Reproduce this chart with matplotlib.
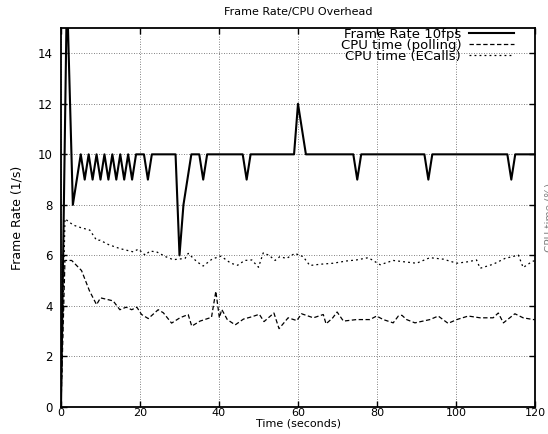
import matplotlib
matplotlib.use('Agg')
import matplotlib.pyplot as plt

# frame rate (vertices of the trace)
frame_t = [0, 1.5, 3, 4, 5, 6, 7, 8, 9, 10, 11, 12, 13, 14, 15, 16, 17, 18, 19,
           21, 22, 23, 29, 30, 31, 33, 35, 36, 37, 46, 47, 48, 59, 60, 62,
           74, 75, 76, 92, 93, 94, 113, 114, 115, 120]
frame_v = [0, 16.5, 8, 9, 10, 9, 10, 9, 10, 9, 10, 9, 10, 9, 10, 9, 10, 9, 10,
           10, 9, 10, 10, 6, 8, 10, 10, 9, 10, 10, 9, 10, 10, 12, 10,
           10, 9, 10, 10, 9, 10, 10, 9, 10, 10]

# CPU time, polling
poll_t = [0, 1, 2.7, 5.2, 7.2, 9, 10, 13.2, 14.9, 16.5, 17.9, 19.2, 20.4, 22.1,
          24.6, 25.9, 28, 30.1, 32.2, 33.1, 35.2, 38.1, 39.2, 40.1, 40.7, 42.1,
          44.1, 46.2, 48.3, 50.2, 51.4, 53.9, 55.2, 57.5, 59.7, 60.9, 63.9,
          66.4, 67.1, 68.8, 69.9, 71.5, 74.8, 78.2, 79.9, 81.6, 84.1, 85.4,
          86.3, 87.5, 89.6, 93.4, 95.5, 98, 100.2, 103.1, 106.1, 109.4, 110.7,
          112, 114.9, 117, 119.6, 120]
poll_v = [0, 5.8, 5.8, 5.4, 4.6, 4.05, 4.32, 4.2, 3.85, 3.95, 3.85, 3.95, 3.66,
          3.5, 3.85, 3.73, 3.32, 3.53, 3.66, 3.2, 3.4, 3.55, 4.58, 3.53, 3.86,
          3.46, 3.25, 3.48, 3.57, 3.67, 3.38, 3.72, 3.1, 3.53, 3.42, 3.69,
          3.53, 3.66, 3.29, 3.53, 3.76, 3.4, 3.46, 3.46, 3.6, 3.46, 3.33, 3.6,
          3.63, 3.46, 3.33, 3.46, 3.6, 3.31, 3.46, 3.6, 3.53, 3.53, 3.72, 3.33,
          3.69, 3.53, 3.46, 3.46]

# CPU time, ECalls
ecall_t = [0, 1, 3.1, 5, 7.3, 9, 9.9, 12, 14.9, 18.3, 19.6, 21.3, 22.5, 24.2,
           26.5, 28.4, 31.4, 32.2, 34.4, 36, 38.3, 40.5, 43, 44.7, 46.5, 48.3,
           50, 51.2, 52.7, 54.2, 55.4, 57.1, 59.2, 61.3, 63, 65.6, 68.9, 72.3,
           74.8, 77.8, 80.8, 84.1, 86.7, 90, 93.4, 96.8, 100.2, 103.1, 105.2,
           106.1, 109.4, 112.4, 115.8, 117, 119.2, 120]
ecall_v = [0, 7.45, 7.2, 7.1, 7.0, 6.6, 6.6, 6.43, 6.27, 6.14, 6.25, 6.01, 6.17,
           6.14, 5.95, 5.83, 5.88, 6.08, 5.75, 5.58, 5.86, 5.97, 5.69, 5.61,
           5.8, 5.82, 5.53, 6.1, 6.0, 5.8, 5.95, 5.88, 6.08, 5.95, 5.6, 5.65,
           5.69, 5.78, 5.82, 5.91, 5.63, 5.8, 5.75, 5.69, 5.91, 5.85, 5.69,
           5.75, 5.82, 5.49, 5.65, 5.88, 6.01, 5.52, 5.75, 5.8]

plt.rcParams['font.family'] = 'DejaVu Sans'

fig = plt.figure(figsize=(5.48, 4.34), dpi=100)
ax = fig.add_axes([61/548, 27/434, 474/548, 379/434])

ax.plot(frame_t, frame_v, color='black', lw=1.5, label='Frame Rate 10fps')
ax.plot(poll_t, poll_v, color='black', lw=0.9, linestyle=(0, (3.5, 2)),
        label='CPU time (polling)')
ax.plot(ecall_t, ecall_v, color='black', lw=0.9, linestyle=(0, (1.5, 2.5)),
        label='CPU time (ECalls)')

ax.set_xlim(0, 120)
ax.set_ylim(0, 15)
ax.set_xticks(range(0, 121, 20))
ax.set_yticks(range(0, 15, 2))
ax.grid(True, color='0.35', linestyle=(0, (1, 2)), lw=0.6)
ax.tick_params(direction='in', top=True, right=True, length=4, width=1,
               labelsize=8.5)
ax.tick_params(axis='x', pad=1, labelsize=8)
ax.tick_params(axis='y', pad=6)
for s in ax.spines.values():
    s.set_linewidth(1.3)

ax.set_xlabel('Time (seconds)', fontsize=8, labelpad=0)
ax.set_ylabel('Frame Rate (1/s)', fontsize=9, labelpad=10)
ax.set_title('Frame Rate/CPU Overhead', fontsize=8, pad=9)

fig.text(544/548, 0.5, 'CPU time (%)', rotation=90, ha='left', va='center',
         fontsize=7.5, color='0.5')

ax.legend(loc='upper right', bbox_to_anchor=(0.975, 1.025), frameon=False,
          markerfirst=False, fontsize=9.5, handlelength=3.4, labelspacing=-0.15,
          handletextpad=0.6, borderpad=0.2)

fig.savefig('out.png', dpi=100)
